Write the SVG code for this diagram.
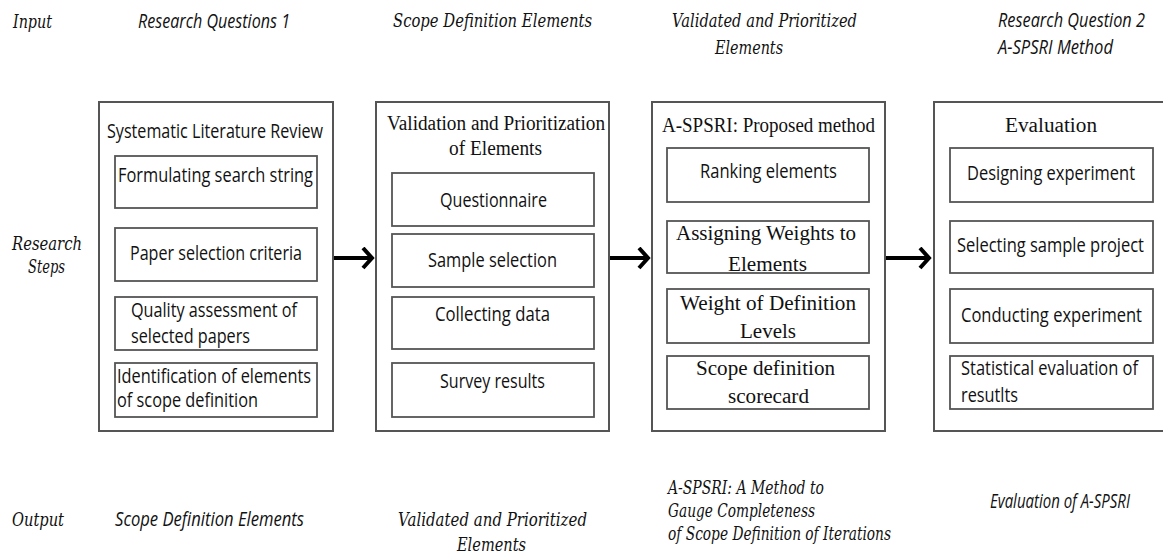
<svg xmlns="http://www.w3.org/2000/svg" width="1163" height="557" viewBox="0 0 1163 557">
<style>
.outer{fill:#fff;stroke:#555;stroke-width:2}
.inner{fill:#fff;stroke:#555;stroke-width:1.8}
.sans{font-family:"Open Sans","Liberation Sans",sans-serif;font-size:19.5px;fill:#111}
.serif{font-family:"Liberation Serif","DejaVu Serif",serif;font-size:20px;fill:#111}
.lbl{font-family:"DejaVu Serif","Liberation Serif",serif;font-style:italic;font-size:18px;fill:#111}
.lbls{font-family:"Open Sans","Liberation Sans",sans-serif;font-style:italic;font-size:19.5px;fill:#111}
.conn{stroke:#000;stroke-width:4;fill:none}
</style>
<defs>
<marker id="chev" markerUnits="userSpaceOnUse" markerWidth="16" markerHeight="24" refX="12" refY="11" orient="auto">
<path d="M3,1 L12,11 L3,21" fill="none" stroke="#000" stroke-width="4"/>
</marker>
</defs>

<g id="labels">
<text class="lbl" x="13" y="28" textLength="39" lengthAdjust="spacingAndGlyphs">Input</text>
<text class="lbls" x="138" y="28" textLength="152" lengthAdjust="spacingAndGlyphs">Research Questions 1</text>
<text class="lbl" x="393" y="27" textLength="199" lengthAdjust="spacingAndGlyphs">Scope Definition Elements</text>
<text class="lbl" x="672" y="27" textLength="185" lengthAdjust="spacingAndGlyphs">Validated and Prioritized</text>
<text class="lbl" x="715" y="54" textLength="68" lengthAdjust="spacingAndGlyphs">Elements</text>
<text class="lbls" x="998" y="27" textLength="147" lengthAdjust="spacingAndGlyphs">Research Question 2</text>
<text class="lbls" x="998" y="54" textLength="115" lengthAdjust="spacingAndGlyphs">A-SPSRI Method</text>
<text class="lbl" x="12" y="250" textLength="70" lengthAdjust="spacingAndGlyphs">Research</text>
<text class="lbl" x="28" y="273" textLength="37" lengthAdjust="spacingAndGlyphs">Steps</text>
<text class="lbl" x="12" y="526" textLength="52" lengthAdjust="spacingAndGlyphs">Output</text>
<text class="lbls" x="115" y="526" textLength="189" lengthAdjust="spacingAndGlyphs">Scope Definition Elements</text>
<text class="lbl" x="398" y="526" textLength="189" lengthAdjust="spacingAndGlyphs">Validated and Prioritized</text>
<text class="lbl" x="457" y="551" textLength="69" lengthAdjust="spacingAndGlyphs">Elements</text>
<text class="lbl" x="668" y="494" textLength="156" lengthAdjust="spacingAndGlyphs">A-SPSRI: A Method to</text>
<text class="lbl" x="668" y="517" textLength="147" lengthAdjust="spacingAndGlyphs">Gauge Completeness</text>
<text class="lbl" x="668" y="540" textLength="223" lengthAdjust="spacingAndGlyphs">of Scope Definition of Iterations</text>
<text class="lbls" x="990" y="508" textLength="140" lengthAdjust="spacingAndGlyphs">Evaluation of A-SPSRI</text>
</g>

<g id="slr">
<rect class="outer" x="99" y="102" width="234" height="329"/>
<text class="sans" x="107" y="138" textLength="216" lengthAdjust="spacingAndGlyphs">Systematic Literature Review</text>
<rect class="inner" x="115" y="156" width="202" height="52"/>
<text class="sans" x="118" y="182" textLength="195" lengthAdjust="spacingAndGlyphs">Formulating search string</text>
<rect class="inner" x="115" y="228" width="202" height="53"/>
<text class="sans" x="130" y="260" textLength="172" lengthAdjust="spacingAndGlyphs">Paper selection criteria</text>
<rect class="inner" x="115" y="297" width="202" height="53"/>
<text class="sans" x="131" y="317" textLength="166" lengthAdjust="spacingAndGlyphs">Quality assessment of</text>
<text class="sans" x="131" y="343" textLength="119" lengthAdjust="spacingAndGlyphs">selected papers</text>
<rect class="inner" x="115" y="363" width="202" height="54"/>
<text class="sans" x="117" y="383" textLength="194" lengthAdjust="spacingAndGlyphs">Identification of elements</text>
<text class="sans" x="117" y="407" textLength="141" lengthAdjust="spacingAndGlyphs">of scope definition</text>
</g>

<g id="validation">
<rect class="outer" x="376" y="102" width="233" height="329"/>
<text class="serif" x="387" y="130" textLength="218" lengthAdjust="spacingAndGlyphs">Validation and Prioritization</text>
<text class="serif" x="449" y="155" textLength="93" lengthAdjust="spacingAndGlyphs">of Elements</text>
<rect class="inner" x="392" y="173" width="202" height="53"/>
<text class="sans" x="440" y="207" textLength="107" lengthAdjust="spacingAndGlyphs">Questionnaire</text>
<rect class="inner" x="392" y="234" width="202" height="53"/>
<text class="sans" x="428" y="267" textLength="129" lengthAdjust="spacingAndGlyphs">Sample selection</text>
<rect class="inner" x="392" y="297" width="202" height="52"/>
<text class="sans" x="435" y="321" textLength="115" lengthAdjust="spacingAndGlyphs">Collecting data</text>
<rect class="inner" x="392" y="363" width="202" height="54"/>
<text class="sans" x="440" y="388" textLength="105" lengthAdjust="spacingAndGlyphs">Survey results</text>
</g>

<g id="method">
<rect class="outer" x="652" y="102" width="233" height="329"/>
<text class="serif" x="662" y="132" textLength="213" lengthAdjust="spacingAndGlyphs">A-SPSRI: Proposed method</text>
<rect class="inner" x="667" y="148" width="202" height="54"/>
<text class="sans" x="700" y="178" textLength="137" lengthAdjust="spacingAndGlyphs">Ranking elements</text>
<rect class="inner" x="667" y="221" width="202" height="52"/>
<text class="serif" x="676" y="240" textLength="180" lengthAdjust="spacingAndGlyphs">Assigning Weights to</text>
<text class="serif" x="728" y="271" textLength="79" lengthAdjust="spacingAndGlyphs">Elements</text>
<rect class="inner" x="667" y="289" width="202" height="54"/>
<text class="serif" x="680" y="310" textLength="176" lengthAdjust="spacingAndGlyphs">Weight of Definition</text>
<text class="serif" x="740" y="338" textLength="56" lengthAdjust="spacingAndGlyphs">Levels</text>
<rect class="inner" x="667" y="356" width="202" height="53"/>
<text class="serif" x="696" y="375" textLength="139" lengthAdjust="spacingAndGlyphs">Scope definition</text>
<text class="serif" x="728" y="403" textLength="81" lengthAdjust="spacingAndGlyphs">scorecard</text>
</g>

<g id="evaluation">
<rect class="outer" x="934" y="102" width="240" height="329"/>
<text class="serif" x="1005" y="132" textLength="92" lengthAdjust="spacingAndGlyphs">Evaluation</text>
<rect class="inner" x="950" y="148" width="203" height="54"/>
<text class="sans" x="967" y="180" textLength="168" lengthAdjust="spacingAndGlyphs">Designing experiment</text>
<rect class="inner" x="950" y="221" width="203" height="52"/>
<text class="sans" x="957" y="252" textLength="187" lengthAdjust="spacingAndGlyphs">Selecting sample project</text>
<rect class="inner" x="950" y="289" width="203" height="54"/>
<text class="sans" x="961" y="322" textLength="181" lengthAdjust="spacingAndGlyphs">Conducting experiment</text>
<rect class="inner" x="950" y="356" width="203" height="53"/>
<text class="sans" x="961" y="375" textLength="177" lengthAdjust="spacingAndGlyphs">Statistical evaluation of</text>
<text class="sans" x="961" y="402" textLength="57" lengthAdjust="spacingAndGlyphs">resutlts</text>
</g>

<g id="connectors">
<path class="conn" d="M334,258 L372,258" marker-end="url(#chev)"/>
<path class="conn" d="M610,258 L648,258" marker-end="url(#chev)"/>
<path class="conn" d="M886,258 L929,258" marker-end="url(#chev)"/>
</g>
</svg>
